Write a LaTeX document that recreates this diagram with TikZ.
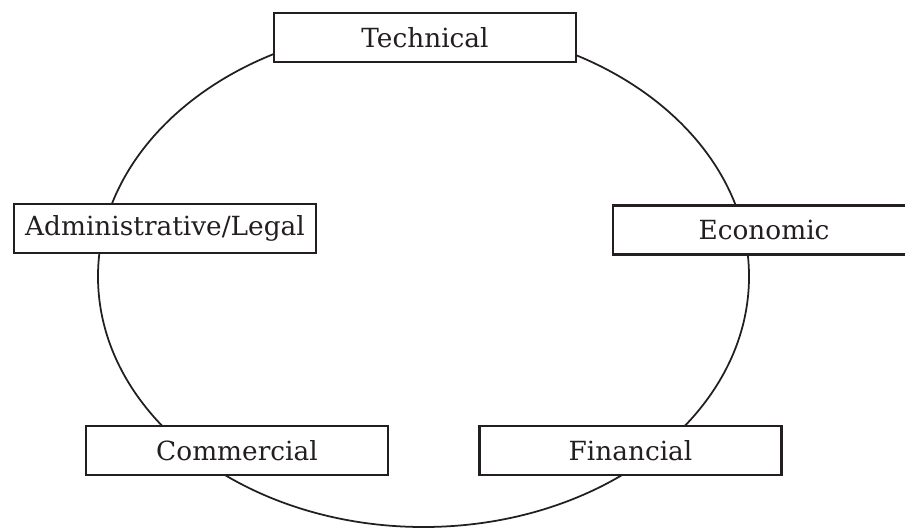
\documentclass[tikz,border=0pt]{standalone}
\usepackage{fontspec}
\setmainfont{DejaVu Serif}
\usepackage{tikz}
\usetikzlibrary{positioning}
\definecolor{inkblack}{RGB}{35,31,32}

\begin{document}
\begin{tikzpicture}[x=0.2mm,y=-0.2mm]
\tikzset{aspect/.style={draw=inkblack, line width=1.2pt, fill=white, minimum width=6.04cm, minimum height=0.98cm, inner sep=0pt, text=inkblack, font=\fontsize{15}{18}\selectfont}}
\clip (0,0) rectangle (905,529);

% Ring
\draw[inkblack, line width=1pt] (423.5,276.5) ellipse [x radius=6.51cm, y radius=5.01cm];

% Aspects
\node[aspect] (tech) at (425,37.5) {Technical};
\node[aspect] (admin) at (165,228.5) {Administrative/Legal};
\node[aspect] (econ) at (764,230) {Economic};
\node[aspect] (comm) at (237,450.5) {Commercial};
\node[aspect] (fin) at (630.5,450.5) {Financial};
\end{tikzpicture}
\end{document}
